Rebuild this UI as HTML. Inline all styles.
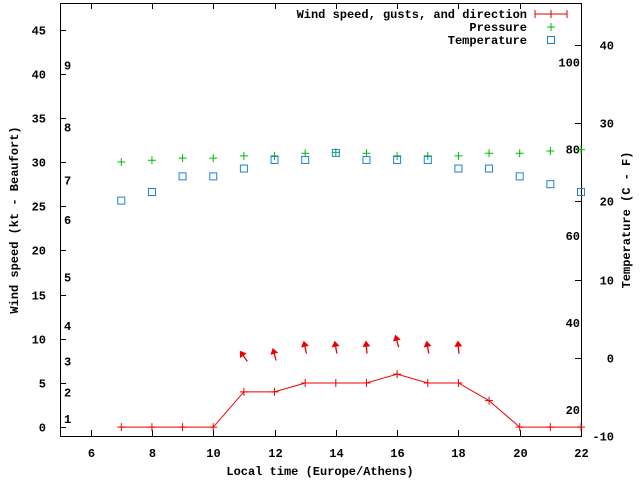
<!DOCTYPE html>
<html><head><meta charset="utf-8"><style>
body{margin:0;background:#fff}
svg{display:block;font-family:"Liberation Mono","DejaVu Sans Mono",monospace;font-size:12px;font-weight:bold}
</style></head><body>
<svg id="chart" width="640" height="480">
<g id="axes"></g><g id="series"></g>
<g>
<text x="527" y="18" text-anchor="end">Wind speed, gusts, and direction</text>
<path d="M535,14H567M535,10V18M567,10V18M551,10V18" stroke="#d00" stroke-width="1" fill="none"/>
<text x="527" y="31" text-anchor="end">Pressure</text>
<path d="M547,27H555M551,23V31" stroke="#0b0" fill="none"/>
<text x="527" y="44" text-anchor="end">Temperature</text>
<rect x="547.5" y="36.5" width="7" height="7" stroke="#1a80e0" fill="none"/>
</g>
</svg>
<script>
const hours=[7,8,9,10,11,12,13,14,15,16,17,18,19,20,21,22];
const windKt=[0,0,0,0,4,4,5,5,5,6,5,5,3,0,0,0];
const pressure=[30.0,30.2,30.45,30.45,30.7,30.7,31.0,31.1,31.0,30.7,30.7,30.7,31.0,31.0,31.25,31.4];
const tempC=[20.1,21.2,23.2,23.2,24.2,25.3,25.3,26.2,25.3,25.3,25.3,24.2,24.2,23.2,22.2,21.2];
const gustHours=[11,12,13,14,15,16,17,18];
const gustKt=[8,8.2,9,9,9,9.7,9,9];
const gustDir=[-35,-15,-12,-10,-5,-15,-10,-5];
const xTicks=[6,8,10,12,14,16,18,20,22];
const yTicks=[0,5,10,15,20,25,30,35,40,45];
const cTicks=[-10,0,10,20,30,40];
const beaufort=[[1,1.5],[2,4.5],[3,8],[4,12],[5,17.5],[6,24],[7,28.5],[8,34.5],[9,41.5]];
const fTicks=[20,40,60,80,100];
const L=60,R=581,T=3,B=436;
const X=h=>L+(h-5)*(R-L)/17;
const Y=v=>B-(v+1)*(B-T)/49;
const C=c=>B-(c+10)*(B-45)/50;
const F=f=>C((f-32)*5/9);
const NS="http://www.w3.org/2000/svg";
function mk(p,t,a){const e=document.createElementNS(NS,t);for(const k in a)e.setAttribute(k,a[k]);p.appendChild(e);return e;}
const ax=document.getElementById('axes'),se=document.getElementById('series');
let e=mk(ax,'rect',{x:L+.5,y:T+.5,width:R-L,height:B-T,fill:'none',stroke:'#000'});


xTicks.forEach(h=>{const x=Math.round(X(h))+.5;
 let t=mk(ax,'path',{d:`M${x},${B}v-6M${x},${T}v6`,stroke:'#000'});
 
 
 let l=mk(ax,'text',{x:x,y:B+21,'text-anchor':'middle'});l.textContent=h;
 
 });
yTicks.forEach(v=>{const y=Math.round(Y(v))+.5;
 let t=mk(ax,'path',{d:`M${L},${y}h6`,stroke:'#000'});
 
 
 let l=mk(ax,'text',{x:46,y:y+4,'text-anchor':'end'});l.textContent=v;
 
 });
cTicks.forEach(v=>{const y=Math.round(C(v))+.5;
 let t=mk(ax,'path',{d:`M${R},${y}h-6`,stroke:'#000'});
 
 
 let l=mk(ax,'text',{x:614,y:y+4,'text-anchor':'end'});l.textContent=v;
 
 });
beaufort.forEach(([n,v])=>{let l=mk(ax,'text',{x:64,y:Y(v)+9});l.textContent=n;
 
 });
fTicks.forEach(f=>{let l=mk(ax,'text',{x:580,y:F(f)+4,'text-anchor':'end'});l.textContent=f;
 
 });
let xt=mk(ax,'text',{x:320,y:475,'text-anchor':'middle'});xt.textContent='Local time (Europe/Athens)';


let yt=mk(ax,'text',{transform:'translate(18,220) rotate(-90)','text-anchor':'middle'});yt.textContent='Wind speed (kt - Beaufort)';


let y2=mk(ax,'text',{transform:'translate(630,220) rotate(-90)','text-anchor':'middle'});y2.textContent='Temperature (C - F)';


let ln=mk(se,'polyline',{points:hours.map((h,i)=>X(h)+','+Y(windKt[i])).join(' '),fill:'none',stroke:'#e00'});


hours.forEach((h,i)=>{let p=mk(se,'path',{d:`M${X(h)-4},${Y(windKt[i])}h8M${X(h)},${Y(windKt[i])-4}v8`,stroke:'#e00'});
 
 });
gustHours.forEach((h,i)=>{const g=mk(se,'g',{transform:`translate(${X(h)},${Y(gustKt[i])}) rotate(${gustDir[i]})`});
 
 
 mk(g,'path',{d:'M0,6V-5',stroke:'#e00','stroke-width':1.3});
 mk(g,'path',{d:'M0,-7L-4,-1L4,-1Z',fill:'#e00'});});
hours.forEach((h,i)=>{let p=mk(se,'path',{d:`M${X(h)-4},${Y(pressure[i])}h8M${X(h)},${Y(pressure[i])-4}v8`,stroke:'#0b0'});
 
 });
hours.forEach((h,i)=>{let r=mk(se,'rect',{x:X(h)-3.5,y:C(tempC[i])-3.5,width:7,height:7,fill:'none',stroke:'#1a80e0'});
 
 });
</script>
</body></html>
